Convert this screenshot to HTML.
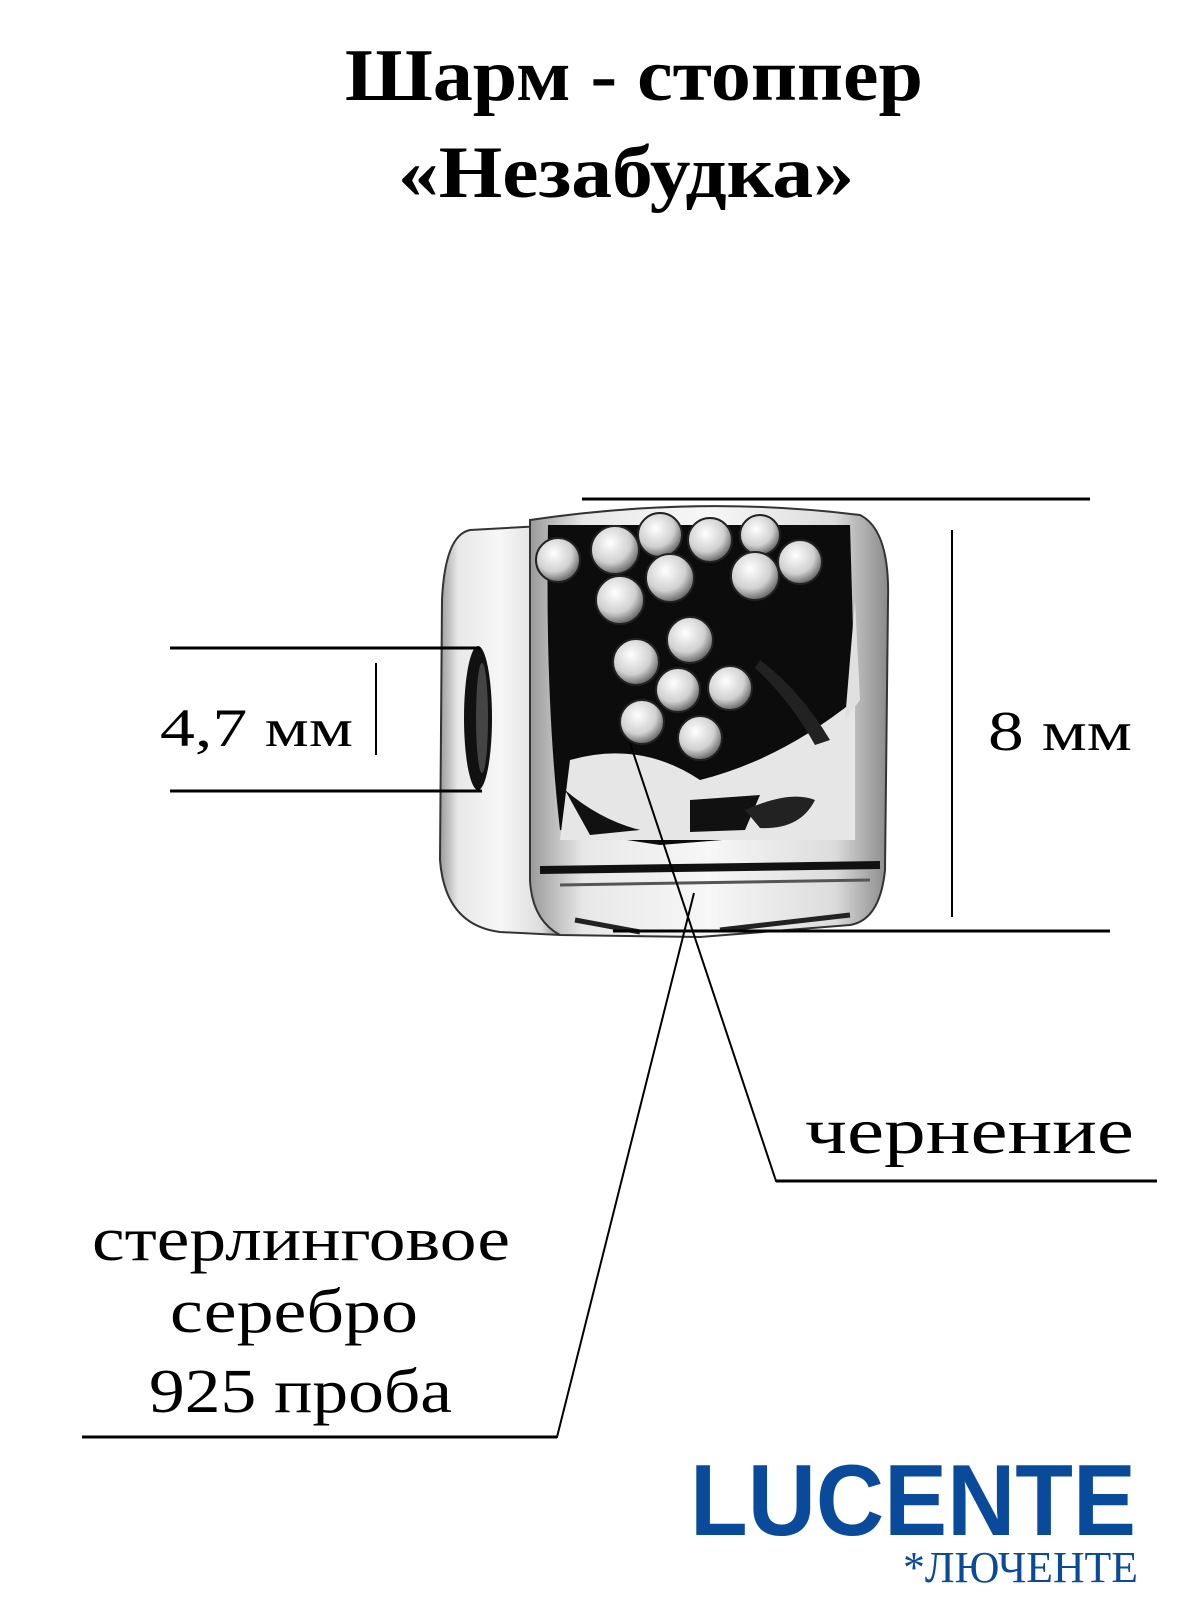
<!DOCTYPE html>
<html><head><meta charset="utf-8"><style>
html,body{margin:0;padding:0;background:#fff;}
svg{display:block;}
text{font-family:"Liberation Serif","DejaVu Serif",serif;fill:#000;}
</style></head><body>
<svg width="1200" height="1600" viewBox="0 0 1200 1600" xmlns="http://www.w3.org/2000/svg">
<defs>
<linearGradient id="sil" x1="0" y1="0" x2="1" y2="0">
<stop offset="0" stop-color="#9a9a9a"/><stop offset="0.15" stop-color="#e8e8e8"/><stop offset="0.5" stop-color="#f7f7f7"/><stop offset="0.85" stop-color="#dcdcdc"/><stop offset="1" stop-color="#8a8a8a"/>
</linearGradient>
<radialGradient id="grape" cx="0.4" cy="0.35" r="0.7">
<stop offset="0" stop-color="#ffffff"/><stop offset="0.6" stop-color="#d0d0d0"/><stop offset="1" stop-color="#555"/>
</radialGradient>
</defs>

<!-- Title -->
<text x="634" y="100" font-size="74" font-weight="bold" text-anchor="middle" textLength="578" lengthAdjust="spacingAndGlyphs">Шарм - стоппер</text>
<text x="626" y="197" font-size="74" font-weight="bold" text-anchor="middle" textLength="456" lengthAdjust="spacingAndGlyphs">«Незабудка»</text>

<!-- Charm -->
<g>
<path d="M470 530 Q445 535 442 600 L440 860 Q445 925 500 932 L560 935 L560 525 Z" fill="url(#sil)" stroke="#333" stroke-width="2"/>
<ellipse cx="478" cy="718" rx="14" ry="72" fill="#111"/>
<ellipse cx="482" cy="718" rx="6" ry="55" fill="#444"/>
<path d="M530 520 Q700 495 860 515 Q890 530 888 600 L885 870 Q880 920 850 925 L700 937 L560 935 Q532 920 530 880 Z" fill="url(#sil)" stroke="#333" stroke-width="2"/>
<path d="M548 525 L850 525 L855 700 L848 830 L660 845 L560 830 Q545 700 548 525 Z" fill="#0c0c0c"/>
<path d="M570 760 Q640 740 700 780 Q780 760 855 700 L855 840 L560 840 Z" fill="#e6e6e6"/>
<path d="M565 790 Q600 820 640 830 L590 835 Z" fill="#111"/>
<path d="M690 800 L760 795 L745 830 L690 832 Z" fill="#111"/>
<path d="M745 810 Q790 790 815 800 Q800 830 760 828 Z" fill="#222"/>
<path d="M760 660 Q800 690 830 740 L815 745 Q790 700 755 668 Z" fill="#222"/>
<path d="M855 600 L860 700 L845 720 Z" fill="#e0e0e0"/>
<path d="M540 870 L880 865" stroke="#111" stroke-width="8"/>
<path d="M560 885 L870 880" stroke="#555" stroke-width="3"/>
<path d="M575 920 L640 932 M720 930 L850 915" stroke="#222" stroke-width="5"/>
<g fill="url(#grape)" stroke="#222" stroke-width="2">
<circle cx="558" cy="560" r="22"/><circle cx="615" cy="550" r="24"/><circle cx="660" cy="535" r="22"/><circle cx="710" cy="540" r="22"/><circle cx="760" cy="535" r="20"/><circle cx="800" cy="562" r="22"/>
<circle cx="620" cy="600" r="24"/><circle cx="670" cy="578" r="24"/><circle cx="755" cy="576" r="24"/>
<circle cx="690" cy="640" r="23"/><circle cx="636" cy="662" r="23"/><circle cx="678" cy="690" r="22"/><circle cx="730" cy="688" r="22"/>
<circle cx="642" cy="722" r="22"/><circle cx="700" cy="738" r="22"/>
</g>
</g>

<!-- Dimension lines -->
<g stroke="#000" fill="none">
<line x1="582" y1="499" x2="1090" y2="499" stroke-width="3"/>
<line x1="613" y1="931" x2="1110" y2="931" stroke-width="3"/>
<line x1="952" y1="530" x2="952" y2="917" stroke-width="2"/>
<line x1="170" y1="648" x2="480" y2="648" stroke-width="3"/>
<line x1="170" y1="791" x2="482" y2="791" stroke-width="3"/>
<line x1="376" y1="663" x2="376" y2="755" stroke-width="2"/>
<polyline points="630,743 776,1181 1157,1181" stroke-width="2"/>
<line x1="776" y1="1181" x2="1157" y2="1181" stroke-width="3"/>
<polyline points="694,893 557,1437 82,1437" stroke-width="2"/>
<line x1="82" y1="1437" x2="557" y2="1437" stroke-width="3"/>
</g>

<text x="160" y="746" font-size="54" textLength="193" lengthAdjust="spacingAndGlyphs">4,7 мм</text>
<text x="988" y="750" font-size="56" textLength="144" lengthAdjust="spacingAndGlyphs">8 мм</text>
<text x="805" y="1153" font-size="66" textLength="329" lengthAdjust="spacingAndGlyphs">чернение</text>
<text x="92" y="1260" font-size="62" textLength="418" lengthAdjust="spacingAndGlyphs">стерлинговое</text>
<text x="170" y="1332" font-size="62" textLength="248" lengthAdjust="spacingAndGlyphs">серебро</text>
<text x="149" y="1412" font-size="62" textLength="303" lengthAdjust="spacingAndGlyphs">925 проба</text>

<!-- Logo -->
<text x="690" y="1535" font-family="'Liberation Sans',sans-serif" font-size="101" font-weight="bold" style="fill:#0a4a9a;font-family:'Liberation Sans',sans-serif" textLength="446" lengthAdjust="spacingAndGlyphs">LUCENTE</text>
<text x="903" y="1582" font-size="44" style="fill:#0a4a9a" textLength="235" lengthAdjust="spacingAndGlyphs">*ЛЮЧЕНТЕ</text>
</svg>
</body></html>
